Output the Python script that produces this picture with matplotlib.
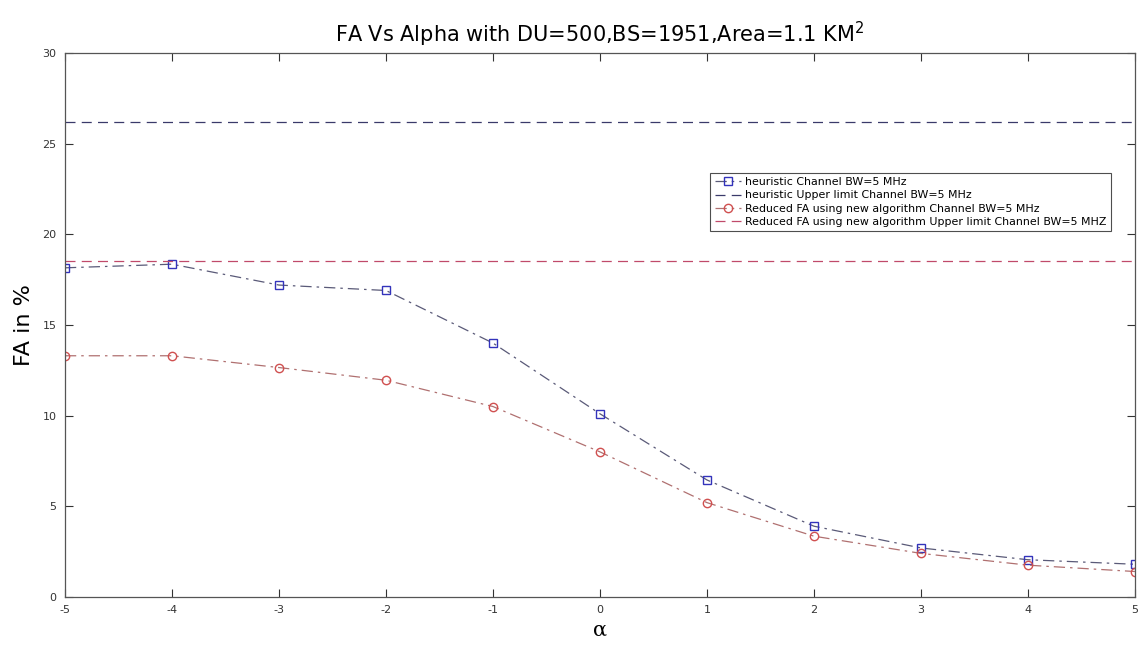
import numpy as np
import matplotlib.pyplot as plt

plt.rcParams['axes.unicode_minus'] = False

alpha = [-5, -4, -3, -2, -1, 0, 1, 2, 3, 4, 5]
heuristic_fa = [18.15, 18.35, 17.2, 16.9, 14.0, 10.1, 6.45, 3.9, 2.7, 2.05, 1.8]
reduced_fa = [13.3, 13.3, 12.65, 11.95, 10.5, 8.0, 5.2, 3.35, 2.4, 1.75, 1.4]
heuristic_limit = 26.2
reduced_limit = 18.5

fig = plt.figure(figsize=(11.48, 6.46), dpi=100)
ax = fig.add_axes([0.0566, 0.076, 0.932, 0.842])

ax.plot(alpha, heuristic_fa, linestyle='-.', color='#5a5a78', linewidth=0.9,
        dashes=(9, 4, 2, 4),
        marker='s', markersize=6, markerfacecolor='none', markeredgecolor='#3333bb',
        label='heuristic Channel BW=5 MHz')
ax.axhline(heuristic_limit, linestyle='--', color='#3a3a6a', linewidth=0.9,
           dashes=(8, 5), label='heuristic Upper limit Channel BW=5 MHz')
ax.plot(alpha, reduced_fa, linestyle='-.', color='#b07070', linewidth=0.9,
        dashes=(9, 4, 2, 4),
        marker='o', markersize=6, markerfacecolor='none', markeredgecolor='#d05050',
        label='Reduced FA using new algorithm Channel BW=5 MHz')
ax.axhline(reduced_limit, linestyle='--', color='#c04a6a', linewidth=0.9,
           dashes=(8, 5), label='Reduced FA using new algorithm Upper limit Channel BW=5 MHZ')

ax.set_xlim(-5, 5)
ax.set_ylim(0, 30)
ax.set_xticks(alpha)
ax.set_yticks([0, 5, 10, 15, 20, 25, 30])
ax.tick_params(direction='in', top=True, right=True, length=6, labelsize=8,
               colors='#333333', width=0.8, pad=6)
for s in ax.spines.values():
    s.set_color('#555555')
    s.set_linewidth(0.9)

ax.set_title('FA Vs Alpha with DU=500,BS=1951,Area=1.1 KM$^2$', fontsize=15, pad=8)
ax.set_ylabel('FA in %', fontsize=16, labelpad=6)
ax.set_xlabel('α', fontsize=15, labelpad=4, family='DejaVu Serif')

leg = ax.legend(loc='upper right', bbox_to_anchor=(0.983, 0.79), fontsize=7.9,
                frameon=True, fancybox=False, borderpad=0.4, labelspacing=0.3,
                handlelength=2.4, handletextpad=0.4)
leg.get_frame().set_edgecolor('#222222')
leg.get_frame().set_linewidth(0.8)

fig.savefig('out.png', dpi=100)
